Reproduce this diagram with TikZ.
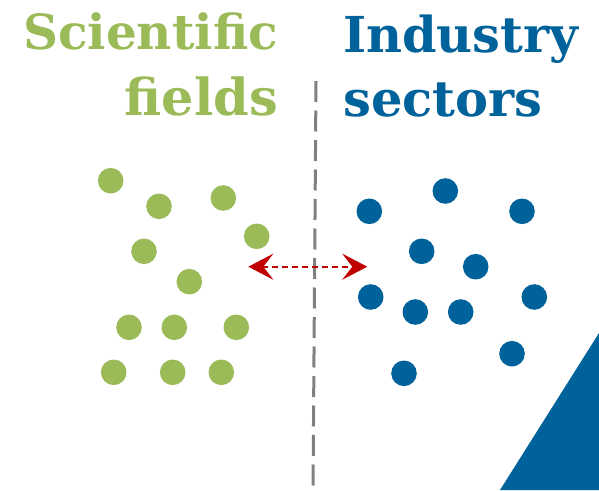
\documentclass[tikz,border=0pt]{standalone}
\usepackage{fontspec}
\setmainfont{DejaVu Serif}
\usetikzlibrary{arrows.meta}
\definecolor{scigreen}{RGB}{155,187,89}
\definecolor{indblue}{RGB}{0,98,155}
\definecolor{arrred}{RGB}{192,0,0}
\definecolor{divgray}{RGB}{128,128,128}

\begin{document}
\begin{tikzpicture}[x=1pt,y=-1pt,
    sdot/.style={circle,fill=scigreen,inner sep=0pt,minimum size=25.6pt},
    idot/.style={circle,fill=indblue,inner sep=0pt,minimum size=25.6pt},
    title/.style={inner sep=0pt,font=\bfseries}]
        \useasboundingbox (0,0) rectangle (599,490);
        % titles
        \node[title,text=scigreen,anchor=base east,font=\fontsize{48.5}{50}\selectfont\bfseries] (scititle) at (278,49) {Scientific};
        \node[title,text=scigreen,anchor=base east,font=\fontsize{51}{54}\selectfont\bfseries] (scititleb) at (278,115) {fields};
        \node[title,text=indblue,anchor=base west,font=\fontsize{49.5}{51}\selectfont\bfseries] (indtitle) at (343,52) {Industry};
        \node[title,text=indblue,anchor=base west,font=\fontsize{49.5}{54}\selectfont\bfseries] (indtitleb) at (343,116) {sectors};
        % divider
        \coordinate (divtop) at (316,81);
        \coordinate (divbot) at (313,490);
        \draw[divgray,line width=3pt,dash pattern=on 21pt off 8.5pt] (divtop)--(divbot);
        % scientific fields
        \node[sdot] (s1) at (110.7,180.7) {};
        \node[sdot] (s2) at (159,206.3) {};
        \node[sdot] (s3) at (223.3,198) {};
        \node[sdot] (s4) at (256.7,236.3) {};
        \node[sdot] (s5) at (144,251.3) {};
        \node[sdot] (s6) at (189.3,281.7) {};
        \node[sdot] (s7) at (129,327.3) {};
        \node[sdot] (s8) at (174.3,327.3) {};
        \node[sdot] (s9) at (236.3,327.3) {};
        \node[sdot] (s10) at (113.7,372.3) {};
        \node[sdot] (s11) at (172.7,372.3) {};
        \node[sdot] (s12) at (221.3,372.3) {};
        % industry sectors
        \node[idot] (i1) at (445.3,191) {};
        \node[idot] (i2) at (369.3,211.3) {};
        \node[idot] (i3) at (522,211.3) {};
        \node[idot] (i4) at (421.7,251.3) {};
        \node[idot] (i5) at (475.7,266.7) {};
        \node[idot] (i6) at (370.7,297) {};
        \node[idot] (i7) at (534.3,297) {};
        \node[idot] (i8) at (415.3,312) {};
        \node[idot] (i9) at (460.7,312) {};
        \node[idot] (i10) at (512,353.7) {};
        \node[idot] (i11) at (404,373.3) {};
        % link
        \coordinate (linkl) at (248.3,266.7);
        \coordinate (linkr) at (367.3,266.7);
        \draw[arrred,line width=2.2pt,dash pattern=on 6pt off 4pt,
              {Stealth[length=25pt,width=26pt,inset=10pt]}-{Stealth[length=25pt,width=26pt,inset=10pt]}] (linkl)--(linkr);
        % corner
        \fill[indblue] (500,490)--(599,333)--(599,490)--cycle;
    \end{tikzpicture}
\end{document}
